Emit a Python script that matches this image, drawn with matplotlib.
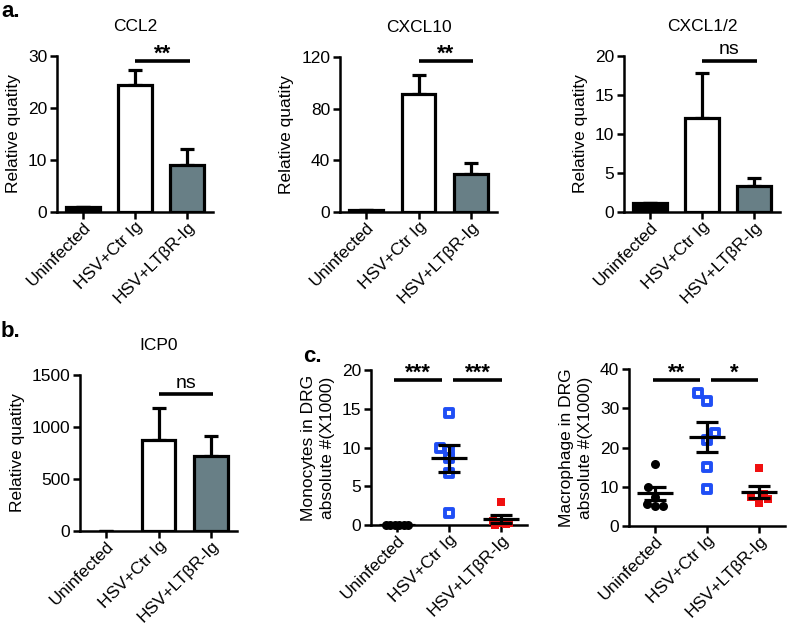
import numpy as np
import matplotlib
matplotlib.use("Agg")
import matplotlib.pyplot as plt
from matplotlib.transforms import ScaledTranslation

plt.rcParams['font.family'] = ['Liberation Sans', 'DejaVu Sans']
plt.rcParams['font.size'] = 12.5

# data
groups = ["Uninfected", "HSV+Ctr Ig", "HSV+LT\u03b2R-Ig"]

ccl2 = [1.0, 24.4, 9.0]
ccl2_err = [0.0, 3.0, 3.1]
cxcl10 = [1.3, 91.0, 29.2]
cxcl10_err = [0.0, 14.8, 9.0]
cxcl12 = [1.1, 12.1, 3.3]
cxcl12_err = [0.0, 5.7, 1.1]
icp0 = [0.0, 874, 723]
icp0_err = [0.0, 310, 192]

mono_uninf = [0, 0, 0, 0, 0, 0]
mono_ctr = [14.5, 10.0, 9.7, 8.6, 6.7, 1.6]
mono_lt = [3.0, 0.5, 0.3, 0.2, 0.1, 0.0]
mono_mean = [0.0, 8.6, 0.8]
mono_sem = [0.0, 1.75, 0.5]

mac_uninf = [15.7, 10.0, 7.5, 5.5, 5.0, 5.0]
mac_ctr = [34.0, 31.9, 23.8, 21.9, 15.1, 9.3]
mac_lt = [14.7, 8.2, 7.5, 6.8, 5.8]
mac_mean = [8.3, 22.7, 8.7]
mac_sem = [1.7, 3.9, 1.5]

W, H = 787, 625
fig = plt.figure(figsize=(W / 100, H / 100), dpi=100)

bar_colors = ['black', 'white', '#687f86']
LW = 2.3
FS = 12.5


def add_ax(l, r, t, b):
    return fig.add_axes([l / W, 1 - b / H, (r - l) / W, (b - t) / H])


def style(ax, ymax, yticks, ylabel):
    x = np.arange(3)
    ax.set_xlim(-0.5, 2.5)
    ax.set_ylim(0, ymax)
    ax.set_yticks(yticks)
    ax.set_xticks(x)
    ax.set_xticklabels(groups, rotation=45, ha='right', va='center',
                       rotation_mode='anchor', fontsize=12)
    ax.tick_params(width=1.8, length=5, labelsize=FS, pad=2)
    ax.tick_params(axis='x', pad=4)
    # nudge the slanted labels a bit to the right, like the original
    shift = ScaledTranslation(4 / 72, 0, fig.dpi_scale_trans)
    for lab in ax.get_xticklabels():
        lab.set_transform(lab.get_transform() + shift)
    for s in ['top', 'right']:
        ax.spines[s].set_visible(False)
    for s in ['left', 'bottom']:
        ax.spines[s].set_linewidth(1.8)
    ax.set_ylabel(ylabel, fontsize=FS, labelpad=5, linespacing=1.35)


def sig(ax, x0, x1, y, text):
    ax.plot([x0, x1], [y, y], color='black', lw=2.6, clip_on=False,
            solid_capstyle='butt')
    if text == 'ns':
        ax.annotate(text, ((x0 + x1) / 2, y), xytext=(0, 4.5),
                    textcoords='offset points', ha='center', va='baseline',
                    fontsize=14, annotation_clip=False)
    else:
        ax.annotate(text, ((x0 + x1) / 2, y), xytext=(0, 1.0),
                    textcoords='offset points', ha='center', va='baseline',
                    fontsize=16, fontweight='bold', annotation_clip=False)


def bar_panel(ax, vals, errs, ymax, yticks, title, sig_y, sig_text):
    x = np.arange(3)
    ax.errorbar(x, vals, yerr=[np.zeros(3), errs], fmt='none', ecolor='black',
                elinewidth=LW, capsize=5, capthick=LW, zorder=1)
    edge_w = [LW if v > 0 else 0 for v in vals]
    ax.bar(x, vals, width=0.64, color=bar_colors, edgecolor='black',
           linewidth=edge_w, zorder=2)
    style(ax, ymax, yticks, 'Relative quatity')
    ax.set_title(title, fontsize=FS, pad=18)
    sig(ax, 1.0, 2.05, sig_y, sig_text)


def dot_panel(ax, pts, offs, means, sems, ymax, yticks, ylabel):
    x = np.arange(3)
    ax.scatter(np.array(offs[0]) + 0, pts[0], marker='o', s=42, color='black',
               zorder=3, clip_on=False, linewidths=0)
    ax.scatter(np.array(offs[1]) + 1, pts[1], marker='s', s=26, facecolor='white',
               edgecolor='#1f4ef5', linewidths=2.8, zorder=3, clip_on=False)
    ax.scatter(np.array(offs[2]) + 2, pts[2], marker='s', s=40, color='#f01010',
               zorder=3, clip_on=False, linewidths=0)
    ax.hlines(means, x - 0.35, x + 0.35, color='black', lw=LW, zorder=4)
    ax.errorbar(x, means, yerr=sems, fmt='none', ecolor='black',
                elinewidth=LW, capsize=8, capthick=LW, zorder=4)
    style(ax, ymax, yticks, ylabel)


# panel a
ax1 = add_ax(57, 213, 56, 212)
bar_panel(ax1, ccl2, ccl2_err, 30, [0, 10, 20, 30], 'CCL2', 29.0, '**')
ax2 = add_ax(340, 497, 57, 212)
bar_panel(ax2, cxcl10, cxcl10_err, 120, [0, 40, 80, 120], 'CXCL10', 117, '**')
ax3 = add_ax(624, 780, 56, 212)
bar_panel(ax3, cxcl12, cxcl12_err, 20, [0, 5, 10, 15, 20], 'CXCL1/2', 19.4, 'ns')

# panel b
ax4 = add_ax(80, 237, 375, 531)
bar_panel(ax4, icp0, icp0_err, 1500, [0, 500, 1000, 1500], 'ICP0', 1315, 'ns')

# panel c
ax5 = add_ax(371, 527, 370, 525)
dot_panel(ax5, [mono_uninf, mono_ctr, mono_lt],
          [[-0.22, -0.13, -0.04, 0.04, 0.13, 0.22],
           [0.0, -0.18, 0.0, 0.0, 0.0, 0.0],
           [0.0, -0.15, 0.15, -0.05, 0.1, -0.12]],
          mono_mean, mono_sem, 20, [0, 5, 10, 15, 20],
          'Monocytes in DRG\nabsolute #(X1000)')
sig(ax5, -0.05, 0.87, 18.7, '***')
sig(ax5, 1.08, 2.02, 18.7, '***')

ax6 = add_ax(629, 785, 369, 526)
dot_panel(ax6, [mac_uninf, mac_ctr, mac_lt],
          [[0.0, -0.13, 0.0, -0.15, 0.0, 0.15],
           [-0.17, 0.0, 0.15, 0.0, 0.0, 0.0],
           [0.0, 0.1, -0.15, 0.18, 0.0]],
          mac_mean, mac_sem, 40, [0, 10, 20, 30, 40],
          'Macrophage in DRG\nabsolute #(X1000)')
sig(ax6, -0.04, 0.87, 37.2, '**')
sig(ax6, 1.08, 1.98, 37.2, '*')

fig.text(1 / W, 1 - 17 / H, 'a.', fontsize=16, fontweight='bold', va='baseline')
fig.text(1 / W, 1 - 337 / H, 'b.', fontsize=16, fontweight='bold', va='baseline')
fig.text(303 / W, 1 - 362 / H, 'c.', fontsize=16, fontweight='bold', va='baseline')

fig.savefig('out.png', dpi=100)
